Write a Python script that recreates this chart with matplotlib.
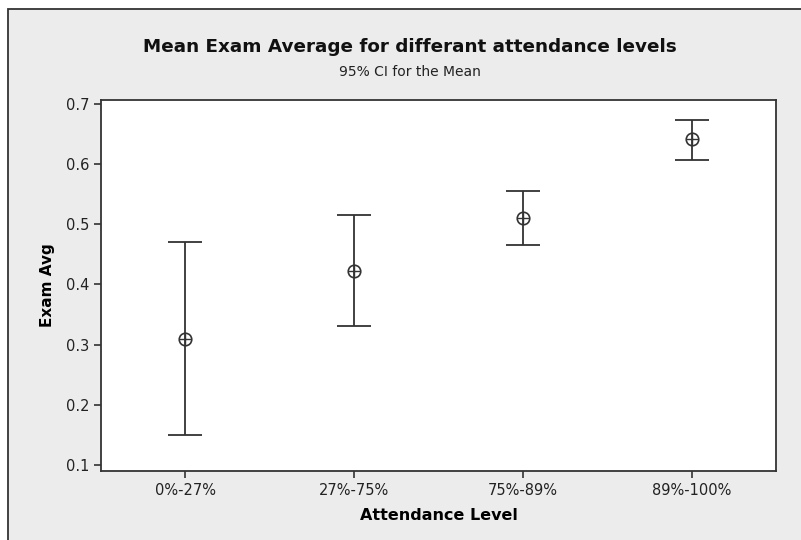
import matplotlib.pyplot as plt
from matplotlib.patches import Rectangle

levels = ["0%-27%", "27%-75%", "75%-89%", "89%-100%"]
means = [0.309, 0.423, 0.511, 0.641]
upper = [0.470, 0.515, 0.556, 0.673]
lower = [0.150, 0.331, 0.465, 0.607]

W, H = 801, 540
fig = plt.figure(figsize=(W / 100, H / 100), dpi=100)
fig.patch.set_facecolor("white")

# grey panel with border on top/left (picture is cropped on the other sides)
fig.patches.append(Rectangle((8 / W, -0.1), 1.1, 1.1 - 9 / H, transform=fig.transFigure,
                             facecolor="#ececec", edgecolor="#333333", lw=1.3, zorder=-10))

ax = fig.add_axes([101 / W, 1 - 471 / H, (776 - 101) / W, (471 - 100) / H])
ax.set_facecolor("white")

x = list(range(1, len(levels) + 1))
err_lo = [m - l for m, l in zip(means, lower)]
err_hi = [u - m for m, u in zip(means, upper)]
ax.errorbar(x, means, yerr=[err_lo, err_hi], fmt="none", ecolor="#333333",
            elinewidth=1.3, capsize=12, capthick=1.3)
ax.plot(x, means, "o", mfc="none", mec="#333333", ms=9, mew=1.2)
ax.plot(x, means, "+", color="#333333", ms=9, mew=1.0)

ax.set_xlim(0.5, 4.5)
ax.set_ylim(0.09, 0.7066)
ax.set_xticks(x)
ax.set_xticklabels(levels)
ax.set_yticks([0.1, 0.2, 0.3, 0.4, 0.5, 0.6, 0.7])
ax.tick_params(direction="out", length=5, width=1.2, color="#333333",
               labelsize=10.5, labelcolor="#222222")
for s in ax.spines.values():
    s.set_color("#333333")
    s.set_linewidth(1.3)

ax.set_xlabel("Attendance Level", fontsize=11.5, fontweight="bold", labelpad=7)
ax.set_ylabel("Exam Avg", fontsize=11, fontweight="bold", labelpad=8)

fig.text(410 / W, 1 - 47 / H, "Mean Exam Average for differant attendance levels",
         ha="center", va="center", fontsize=13.2, fontweight="bold", color="#111111")
fig.text(410 / W, 1 - 72 / H, "95% CI for the Mean",
         ha="center", va="center", fontsize=10, color="#222222")

fig.savefig("out.png", dpi=100)
